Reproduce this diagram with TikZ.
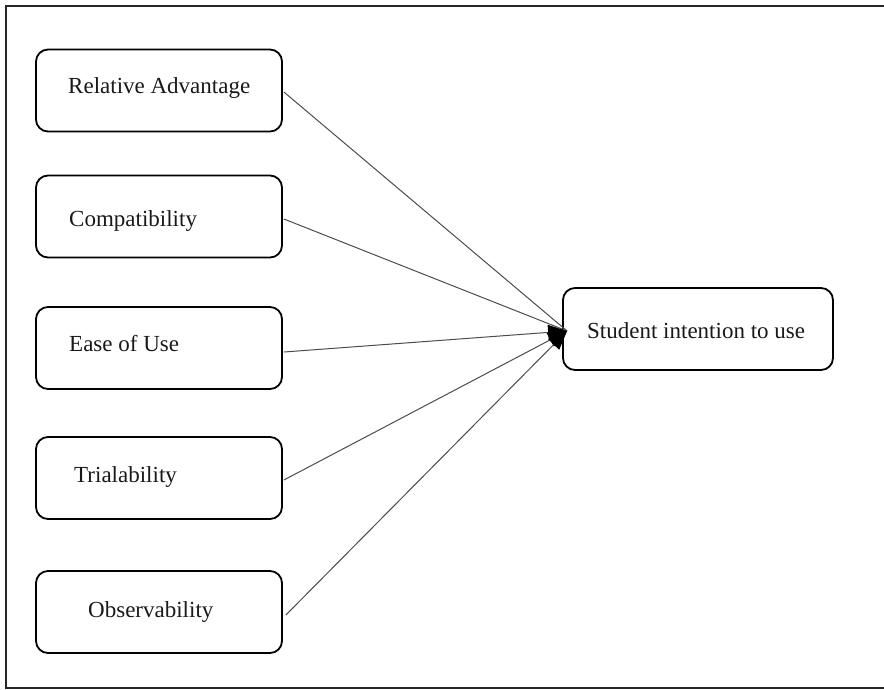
\documentclass[tikz,border=0pt]{standalone}
\usepackage{fontspec}
\setmainfont{Liberation Serif}
\usetikzlibrary{arrows.meta}
\begin{document}
\begin{tikzpicture}[x=1pt,y=-1pt,
  box/.style={draw=black,line width=1.8pt,rounded corners=12pt,minimum width=246pt,minimum height=82pt,inner sep=0pt},
  lbl/.style={anchor=base west,inner sep=0pt,font=\fontsize{23}{27}\selectfont,text=black!90},
  conn/.style={draw=black!70,line width=1pt},
  arr/.style={conn,-{Triangle[length=19pt,width=15pt,fill=black,color=black]}}]
\useasboundingbox (0,0) rectangle (884,689);
\draw[line width=2pt,black!85] (892,6) -- (6,6) -- (6,688) -- (892,688);
\node[box] (b1) at (159,90.5) {};
\node[box] (b2) at (159,216.5) {};
\node[box] (b3) at (159,348) {};
\node[box] (b4) at (159,478) {};
\node[box] (b5) at (159,612) {};
\node[box,minimum width=270pt] (t) at (698,329) {};
\node[lbl] (l1) at (68,93) {Relative Advantage};
\node[lbl] (l2) at (69,226) {Compatibility};
\node[lbl] (l3) at (69,351) {Ease of Use};
\node[lbl] (l4) at (74,482) {Trialability};
\node[lbl] (l5) at (88,617) {Observability};
\node[lbl] (lt) at (587,338) {Student intention to use};
\coordinate (tip) at ([xshift=5pt,yshift=-2pt]t.west);
\draw[conn] ([xshift=1pt,yshift=-1.5pt]b1.east) -- (tip);
\draw[conn] ([xshift=1pt,yshift=-2.5pt]b2.east) -- (tip);
\draw[arr] ([xshift=1pt,yshift=-4pt]b3.east) -- (tip);
\draw[arr] ([xshift=1pt,yshift=-2pt]b4.east) -- (tip);
\draw[arr] ([xshift=3pt,yshift=-3pt]b5.east) -- (tip);
\end{tikzpicture}
\end{document}
